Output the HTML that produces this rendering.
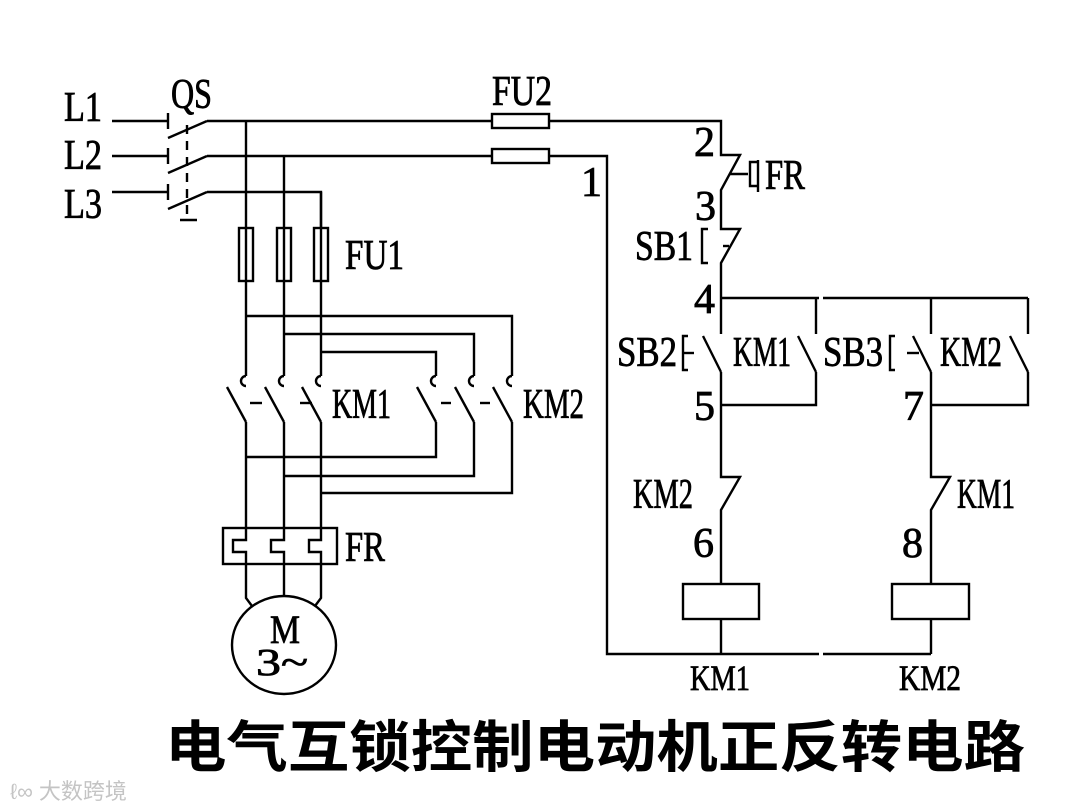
<!DOCTYPE html>
<html><head><meta charset="utf-8"><style>
html,body{margin:0;padding:0;background:#fff;width:1080px;height:810px;overflow:hidden}
svg{display:block}
text{font-family:"Liberation Serif",serif;fill:#000}
.l text{stroke:#000;stroke-width:0.8}
.t{font-family:"Liberation Sans","Noto Sans CJK SC",sans-serif;font-weight:bold}
</style></head><body>
<svg width="1080" height="810" viewBox="0 0 1080 810" xmlns="http://www.w3.org/2000/svg">
<g stroke="#000" stroke-width="2.4" fill="none">
<line x1="112" y1="121" x2="168" y2="121"/>
<line x1="112" y1="156" x2="168" y2="156"/>
<line x1="112" y1="192" x2="168" y2="192"/>
<line x1="168" y1="113" x2="168" y2="129"/>
<line x1="168" y1="148" x2="168" y2="164"/>
<line x1="168" y1="184" x2="168" y2="200"/>
<line x1="168" y1="138" x2="207" y2="121"/>
<line x1="168" y1="173" x2="207" y2="156"/>
<line x1="168" y1="209" x2="207" y2="192"/>
<line x1="187" y1="125" x2="187" y2="219" stroke-dasharray="9,7"/>
<line x1="180" y1="220" x2="197" y2="220"/>
<line x1="207" y1="121" x2="492" y2="121"/>
<rect x="492" y="114" width="57" height="14"/>
<polyline points="549,121 721,121 721,155 740,155 721,190 721,229 740,229 721,263 721,334"/>
<line x1="207" y1="156" x2="492" y2="156"/>
<rect x="492" y="149" width="57" height="14"/>
<polyline points="549,156 607,156 607,654 819,654"/>
<line x1="823" y1="654" x2="931" y2="654"/>
<polyline points="207,192 321,192 321,228"/>
<line x1="246" y1="121" x2="246" y2="376"/>
<line x1="284" y1="156" x2="284" y2="376"/>
<line x1="321" y1="192" x2="321" y2="376"/>
<rect x="239" y="228" width="14" height="53"/>
<rect x="277" y="228" width="14" height="53"/>
<rect x="314" y="228" width="14" height="53"/>
<polyline points="246,316 512,316 512,376"/>
<polyline points="284,334 474,334 474,376"/>
<polyline points="321,352 436,352 436,376"/>
<g>
<path d="M246,376 A5,5 0 1 0 246,386"/><line x1="227" y1="387" x2="246" y2="422"/>
<path d="M284,376 A5,5 0 1 0 284,386"/><line x1="265" y1="387" x2="284" y2="422"/>
<path d="M321,376 A5,5 0 1 0 321,386"/><line x1="302" y1="387" x2="321" y2="422"/>
<path d="M436,376 A5,5 0 1 0 436,386"/><line x1="417" y1="387" x2="436" y2="422"/>
<path d="M474,376 A5,5 0 1 0 474,386"/><line x1="455" y1="387" x2="474" y2="422"/>
<path d="M512,376 A5,5 0 1 0 512,386"/><line x1="493" y1="387" x2="512" y2="422"/>
</g>
<line x1="250" y1="403" x2="262" y2="403"/>
<line x1="300" y1="403" x2="312" y2="403"/>
<line x1="441" y1="403" x2="451" y2="403"/>
<line x1="480" y1="403" x2="490" y2="403"/>
<line x1="246" y1="422" x2="246" y2="528"/>
<line x1="284" y1="422" x2="284" y2="528"/>
<line x1="321" y1="422" x2="321" y2="528"/>
<polyline points="436,422 436,457 246,457"/>
<polyline points="474,422 474,476 284,476"/>
<polyline points="512,422 512,493 321,493"/>
<rect x="223" y="528" width="114" height="36"/>
<polyline points="246,528 246,540 233,540 233,552 246,552 246,564"/>
<polyline points="284,528 284,540 271,540 271,552 284,552 284,564"/>
<polyline points="321,528 321,540 309,540 309,552 321,552 321,564"/>
<polyline points="246,564 246,598 252,606"/>
<polyline points="321,564 321,598 315,606"/>
<line x1="284" y1="564" x2="284" y2="597"/>
<ellipse cx="284" cy="645" rx="52" ry="49"/>
<path d="M730,174 H748 M758,162 H750 V186 H758 M758,160 V192"/>
<polyline points="708,229 702,229 702,263 708,263"/>
<line x1="723" y1="246" x2="729" y2="246"/>
<line x1="721" y1="298" x2="819" y2="298"/>
<line x1="823" y1="298" x2="1028" y2="298"/>
<line x1="816" y1="298" x2="816" y2="334"/>
<line x1="931" y1="298" x2="931" y2="334"/>
<line x1="1028" y1="298" x2="1028" y2="334"/>
<line x1="703" y1="336" x2="721" y2="372"/>
<line x1="798" y1="336" x2="816" y2="372"/>
<line x1="913" y1="336" x2="931" y2="372"/>
<line x1="1010" y1="336" x2="1028" y2="372"/>
<polyline points="688,336 683,336 683,370 688,370"/>
<line x1="683" y1="353" x2="694" y2="353"/>
<polyline points="895,336 890,336 890,370 895,370"/>
<line x1="907" y1="353" x2="919" y2="353"/>
<polyline points="816,372 816,405 721,405"/>
<polyline points="1028,372 1028,405 931,405"/>
<polyline points="721,372 721,477 740,477 721,510 721,584"/>
<polyline points="931,372 931,477 950,477 931,510 931,584"/>
<rect x="683" y="584" width="76" height="35"/>
<rect x="892" y="584" width="77" height="35"/>
<line x1="721" y1="619" x2="721" y2="654"/>
<line x1="931" y1="619" x2="931" y2="654"/>
</g>
<g font-size="42" class="l">
<text x="64" y="121" textLength="38" lengthAdjust="spacingAndGlyphs">L1</text>
<text x="64" y="169" textLength="38" lengthAdjust="spacingAndGlyphs">L2</text>
<text x="64" y="218" textLength="38" lengthAdjust="spacingAndGlyphs">L3</text>
<text x="171" y="108" textLength="41" lengthAdjust="spacingAndGlyphs">QS</text>
<text x="492" y="105" textLength="60" lengthAdjust="spacingAndGlyphs">FU2</text>
<text x="345" y="269" textLength="59" lengthAdjust="spacingAndGlyphs">FU1</text>
<text x="332" y="418" textLength="59" lengthAdjust="spacingAndGlyphs">KM1</text>
<text x="523" y="418" textLength="61" lengthAdjust="spacingAndGlyphs">KM2</text>
<text x="345" y="561" textLength="40" lengthAdjust="spacingAndGlyphs">FR</text>
<text x="581" y="196">1</text>
<text x="694" y="156">2</text>
<text x="765" y="189" textLength="40" lengthAdjust="spacingAndGlyphs">FR</text>
<text x="695" y="220">3</text>
<text x="635" y="260" textLength="58" lengthAdjust="spacingAndGlyphs">SB1</text>
<text x="694" y="313">4</text>
<text x="617" y="366" textLength="60" lengthAdjust="spacingAndGlyphs">SB2</text>
<text x="733" y="366" textLength="58" lengthAdjust="spacingAndGlyphs">KM1</text>
<text x="823" y="366" textLength="60" lengthAdjust="spacingAndGlyphs">SB3</text>
<text x="940" y="366" textLength="62" lengthAdjust="spacingAndGlyphs">KM2</text>
<text x="694" y="420">5</text>
<text x="903" y="420">7</text>
<text x="633" y="508" textLength="60" lengthAdjust="spacingAndGlyphs">KM2</text>
<text x="957" y="508" textLength="58" lengthAdjust="spacingAndGlyphs">KM1</text>
<text x="693" y="557">6</text>
<text x="902" y="557">8</text>
<text x="690" y="690" font-size="36" textLength="60" lengthAdjust="spacingAndGlyphs">KM1</text>
<text x="899" y="690" font-size="36" textLength="62" lengthAdjust="spacingAndGlyphs">KM2</text>
<text x="285" y="643" font-size="40" text-anchor="middle" textLength="30" lengthAdjust="spacingAndGlyphs">M</text>
<text x="256" y="675" font-size="38" textLength="52" lengthAdjust="spacingAndGlyphs">3~</text>
</g>
<text class="t" x="165" y="767" font-size="56" textLength="860" lengthAdjust="spacingAndGlyphs">电气互锁控制电动机正反转电路</text>
<text x="10" y="799" font-size="22" style="fill:#c4c4c4;font-family:'Liberation Sans','Noto Sans CJK SC',sans-serif">ℓ∞ 大数跨境</text>
</svg>
</body></html>
